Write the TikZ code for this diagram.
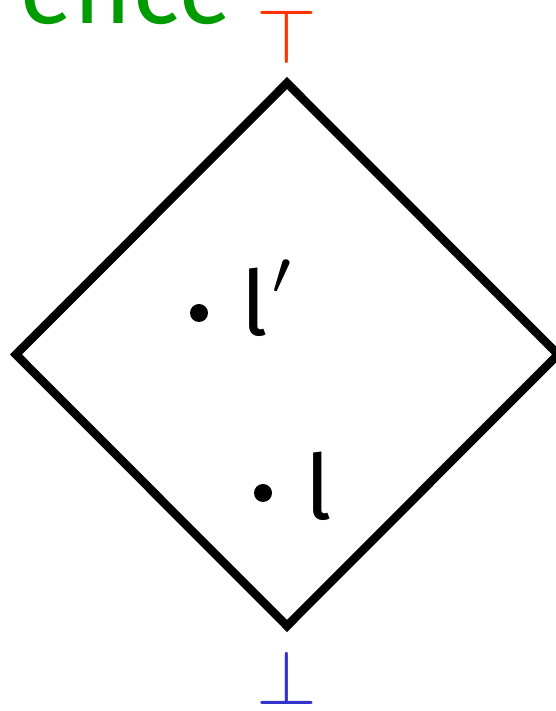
\documentclass[tikz,border=0pt]{standalone}
\usepackage{fontspec}
\setmainfont{Fira Sans}
\definecolor{tgreen}{RGB}{0,155,0}
\definecolor{tred}{RGB}{255,51,0}
\definecolor{tblue}{RGB}{51,51,204}
\begin{document}
\begin{tikzpicture}[x=1pt,y=1pt,
  lbl/.style={inner sep=0pt, anchor=base west, font=\fontsize{90}{90}\selectfont},
  dotpt/.style={circle, fill=black, inner sep=0pt, minimum size=18pt},
  edge/.style={line width=8.5pt, line join=miter},
  sym/.style={inner sep=0pt, anchor=base}]
\useasboundingbox (0,0) rectangle (555,711);
\node[text=tgreen, font=\fontsize{100}{100}\selectfont, inner sep=0pt, anchor=base east] (title) at (233,687) {ence};
\coordinate (T) at (287,628);
\coordinate (L) at (16,356.5);
\coordinate (B) at (287,85);
\coordinate (R) at (558,356.5);
\draw[edge] (T) -- (L) -- (B) -- (R) -- cycle;
\node[dotpt] (p1) at (199,398) {};
\node[lbl] (t1) at (241,375) {l\kern5pt\raisebox{41pt}{\scalebox{2.7}[2.5]{$\prime$}}};
\node[dotpt] (p2) at (263,218) {};
\node[lbl] (t2) at (305,191) {l};
\node[sym, text=tred] (top) at (287,647) {\scalebox{7.8}{$\top$}};
\node[sym, text=tblue] (bot) at (287,6.5) {\scalebox{7.8}{$\bot$}};
\end{tikzpicture}
\end{document}
